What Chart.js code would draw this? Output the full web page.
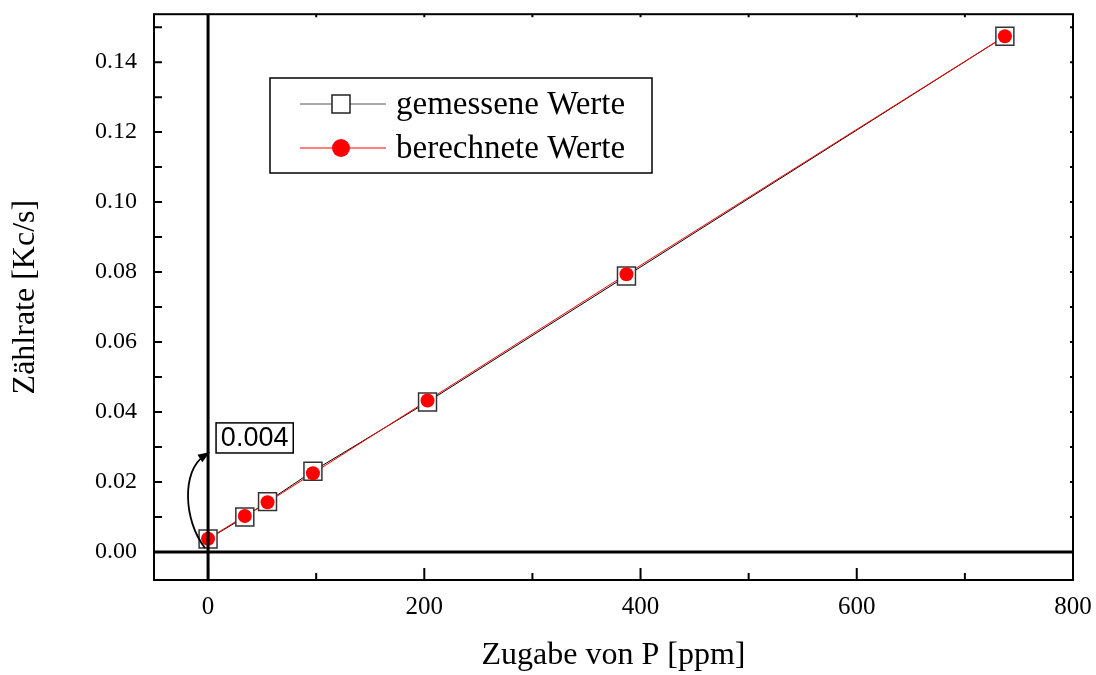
<!DOCTYPE html>
<html>
<head>
<meta charset="utf-8">
<script src="https://cdn.jsdelivr.net/npm/chart.js@4.4.1/dist/chart.umd.min.js"></script>
<style>
  html, body { margin: 0; padding: 0; background: #fff; }
  #wrap { width: 1096px; height: 675px; }
</style>
</head>
<body>
<div id="wrap"><canvas id="zaehlChart"></canvas></div>
<script>
// Zugabe von P [ppm]
var zugabe = [0, 34, 55, 97, 203, 387, 737];
// measured and calculated count rates [Kc/s]
var gemessen = [0.0037, 0.0100, 0.0144, 0.0231, 0.0429, 0.0789, 0.1474];
var berechnet = [0.0038, 0.0103, 0.0142, 0.0225, 0.0433, 0.0794, 0.1474];
var xTicks = [0, 200, 400, 600, 800];
var yTicks = [0, 0.02, 0.04, 0.06, 0.08, 0.10, 0.12, 0.14];
var seriesNames = ['gemessene Werte', 'berechnete Werte'];
var annotText = '0.004';

function pts(ys) {
  return zugabe.map(function (x, i) { return { x: x, y: ys[i] }; });
}

// frame, inward ticks, zero lines, arrow note and legend box
var decor = {
  id: 'decor',
  afterDatasetsDraw: function (chart) {
    var ctx = chart.ctx, a = chart.chartArea;
    var xs = chart.scales.x, ys = chart.scales.y;
    ctx.save();
    ctx.strokeStyle = '#000';

    // zero lines
    ctx.lineWidth = 3;
    var x0 = xs.getPixelForValue(0), y0 = ys.getPixelForValue(0);
    ctx.beginPath();
    ctx.moveTo(x0, a.top); ctx.lineTo(x0, a.bottom);
    ctx.moveTo(a.left, y0); ctx.lineTo(a.right, y0);
    ctx.stroke();

    // ticks
    ctx.lineWidth = 2;
    ctx.beginPath();
    for (var v = 0; v <= 800; v += 100) {
      var px = xs.getPixelForValue(v);
      var len = (v % 200 === 0) ? 12 : 7;
      ctx.moveTo(px, a.bottom); ctx.lineTo(px, a.bottom - len);
      ctx.moveTo(px, a.top); ctx.lineTo(px, a.top + 3);
    }
    for (var k = 0; k <= 15; k++) {
      var py = ys.getPixelForValue(k * 0.01);
      ctx.moveTo(a.left, py); ctx.lineTo(a.left + 8, py);
      ctx.moveTo(a.right, py); ctx.lineTo(a.right - 3, py);
    }
    ctx.stroke();

    // frame
    ctx.lineWidth = 2;
    ctx.strokeRect(a.left, a.top, a.right - a.left, a.bottom - a.top);

    // arrow to the first point
    function P(x, y) { return [xs.getPixelForValue(x), ys.getPixelForValue(y)]; }
    var s = P(-2.8, 0.00114), c1 = P(-23.2, 0.0091), c2 = P(-24.1, 0.0234), t = P(1.9, 0.0286);
    ctx.lineWidth = 1.8;
    ctx.beginPath();
    ctx.moveTo(s[0], s[1]);
    ctx.bezierCurveTo(c1[0], c1[1], c2[0], c2[1], t[0] - 6, t[1] + 4);
    ctx.stroke();
    var ang = Math.atan2(t[1] - c2[1], t[0] - c2[0]);
    ctx.fillStyle = '#000';
    ctx.beginPath();
    ctx.moveTo(t[0], t[1]);
    ctx.lineTo(t[0] - 13 * Math.cos(ang - 0.35), t[1] - 13 * Math.sin(ang - 0.35));
    ctx.lineTo(t[0] - 13 * Math.cos(ang + 0.35), t[1] - 13 * Math.sin(ang + 0.35));
    ctx.closePath();
    ctx.fill();

    // value box
    var b1 = P(7.4, 0.0369), b2 = P(78.8, 0.0283);
    ctx.fillStyle = '#fff';
    ctx.fillRect(b1[0], b1[1], b2[0] - b1[0], b2[1] - b1[1]);
    ctx.lineWidth = 1.5;
    ctx.strokeRect(b1[0], b1[1], b2[0] - b1[0], b2[1] - b1[1]);
    ctx.fillStyle = '#000';
    ctx.font = '27px "Liberation Sans", Arial, sans-serif';
    ctx.textAlign = 'center';
    ctx.textBaseline = 'middle';
    ctx.fillText(annotText, (b1[0] + b2[0]) / 2, (b1[1] + b2[1]) / 2 + 1);

    // legend
    var lx = 270, ly = 78, lw = 382, lh = 95;
    ctx.fillStyle = '#fff';
    ctx.fillRect(lx, ly, lw, lh);
    ctx.lineWidth = 1.5;
    ctx.strokeRect(lx, ly, lw, lh);
    var rows = [ly + 26, ly + 70];
    ctx.lineWidth = 1;
    ctx.strokeStyle = '#555';
    ctx.beginPath(); ctx.moveTo(300, rows[0]); ctx.lineTo(386, rows[0]); ctx.stroke();
    ctx.fillStyle = '#fff';
    ctx.fillRect(332, rows[0] - 9, 18, 18);
    ctx.lineWidth = 1.5;
    ctx.strokeStyle = '#222';
    ctx.strokeRect(332, rows[0] - 9, 18, 18);
    ctx.lineWidth = 1;
    ctx.strokeStyle = '#f00';
    ctx.beginPath(); ctx.moveTo(300, rows[1]); ctx.lineTo(386, rows[1]); ctx.stroke();
    ctx.fillStyle = '#f00';
    ctx.beginPath(); ctx.arc(341, rows[1], 9, 0, Math.PI * 2); ctx.fill();
    ctx.fillStyle = '#000';
    ctx.font = '33px "Liberation Serif", "Times New Roman", serif';
    ctx.textAlign = 'left';
    ctx.fillText(seriesNames[0], 396, rows[0] + 1);
    ctx.fillText(seriesNames[1], 396, rows[1] + 1);
    ctx.restore();
  }
};

var ctx = document.getElementById('zaehlChart').getContext('2d');
var zaehlChart = new Chart(ctx, {
  type: 'line',
  data: {
    datasets: [
      { label: seriesNames[0], data: pts(gemessen), order: 4, borderColor: '#000', borderWidth: 1,
        pointRadius: 0, fill: false, tension: 0 },
      { label: seriesNames[1], data: pts(berechnet), order: 3, borderColor: '#f00', borderWidth: 1,
        pointRadius: 0, fill: false, tension: 0 },
      { label: seriesNames[0], data: pts(gemessen), order: 2, showLine: false, pointStyle: 'rect',
        pointRadius: 12.7, pointBackgroundColor: '#fff', pointBorderColor: '#333', pointBorderWidth: 1.5 },
      { label: seriesNames[1], data: pts(berechnet), order: 1, showLine: false, pointStyle: 'circle',
        pointRadius: 7, pointBackgroundColor: '#f00', pointBorderColor: '#f00', pointBorderWidth: 0 }
    ]
  },
  options: {
    responsive: true,
    maintainAspectRatio: false,
    animation: false,
    layout: { padding: { left: 0, top: 6, right: 23, bottom: 0 } },
    plugins: { legend: { display: false }, tooltip: { enabled: false } },
    scales: {
      x: {
        type: 'linear', min: -50, max: 800,
        grid: { display: false, drawTicks: false },
        border: { display: false },
        afterBuildTicks: function (s) { s.ticks = xTicks.map(function (v) { return { value: v }; }); },
        afterFit: function (s) { s.height = 95; s.paddingLeft = 0; s.paddingRight = 0; },
        ticks: { padding: 12, color: '#000', font: { family: '"Liberation Serif", "Times New Roman", serif', size: 25 },
          callback: function (v) { return String(v); } },
        title: { display: true, text: 'Zugabe von P [ppm]', color: '#000', padding: 0,
          font: { family: '"Liberation Serif", "Times New Roman", serif', size: 32 } }
      },
      y: {
        type: 'linear', min: -0.008, max: 0.1537,
        grid: { display: false, drawTicks: false },
        border: { display: false },
        afterBuildTicks: function (s) { s.ticks = yTicks.map(function (v) { return { value: v }; }); },
        afterFit: function (s) { s.width = 154; s.paddingTop = 0; s.paddingBottom = 0; },
        ticks: { padding: 17, color: '#000', font: { family: '"Liberation Serif", "Times New Roman", serif', size: 24 },
          callback: function (v) { return Number(v).toFixed(2); } },
        title: { display: true, text: 'Zählrate [Kc/s]', color: '#000', padding: 6,
          font: { family: '"Liberation Serif", "Times New Roman", serif', size: 32 } }
      }
    }
  },
  plugins: [decor]
});
</script>
</body>
</html>
